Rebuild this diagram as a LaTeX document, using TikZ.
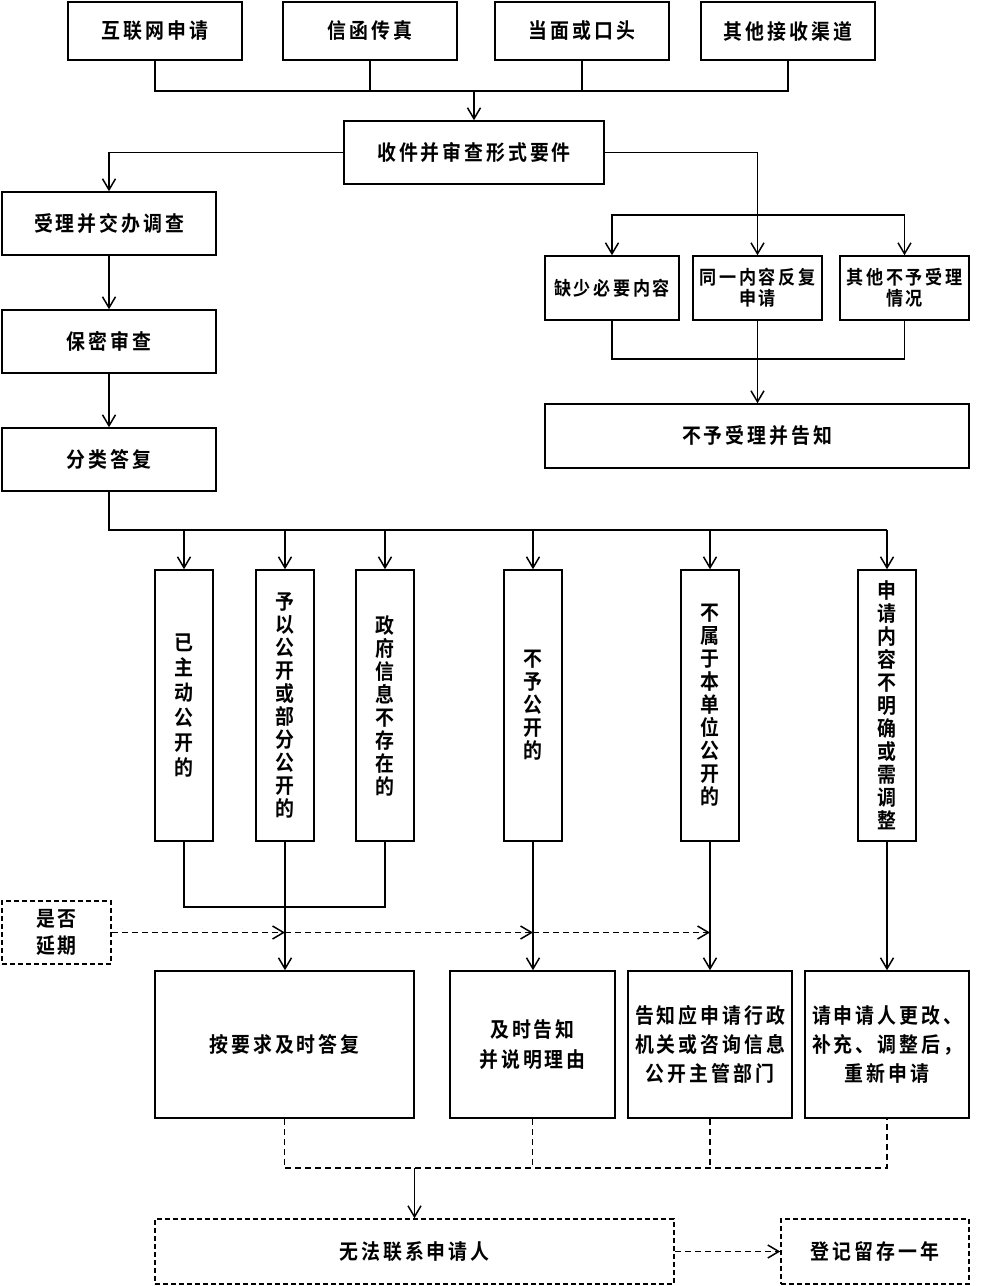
\documentclass[tikz,border=0pt]{standalone}
\usepackage{fontspec}
\setmainfont{Noto Sans CJK SC}[BoldFont={Noto Sans CJK SC Bold}, LetterSpace=14, FakeStretch=0.9]
\usetikzlibrary{arrows.meta}
\newcommand\myfs[2]{\fontsize{#1}{#2}\selectfont\bfseries}
\begin{document}
\begin{tikzpicture}[x=1pt,y=-1pt,
 box/.style={draw,line width=1.5pt,inner sep=0pt,align=center,font=\myfs{21}{28}},
 dbox/.style={box,dash pattern=on 5pt off 3pt},
 ln/.style={line width=1.5pt},
 arr/.style={ln,-{Straight Barb[length=11pt,width=13pt]}},
 dl/.style={ln,dash pattern=on 6pt off 4pt},
 darr/.style={dl,-{Straight Barb[length=11pt,width=13pt,line width=1.5pt]}}]
\useasboundingbox (0,0) rectangle (984,1286);
% top row
\node[box,minimum width=174pt,minimum height=58pt] (t1) at (155,31) {互联网申请};
\node[box,minimum width=174pt,minimum height=58pt] (t2) at (370,31) {信函传真};
\node[box,minimum width=174pt,minimum height=58pt] (t3) at (582,31) {当面或口头};
\node[box,minimum width=174pt,minimum height=58pt] (t4) at (788,31) {其他接收渠道};
\node[box,minimum width=260pt,minimum height=63pt] (recv) at (474,152.5) {收件并审查形式要件};
% left chain
\node[box,minimum width=214pt,minimum height=63pt] (acc) at (109,223.5) {受理并交办调查};
\node[box,minimum width=214pt,minimum height=63pt] (sec) at (109,341.5) {保密审查};
\node[box,minimum width=214pt,minimum height=63pt] (cls) at (109,459.5) {分类答复};
% right branch
\node[box,minimum width=134pt,minimum height=64pt,font=\myfs{19}{21}] (r1) at (612,288) {缺少必要内容};
\node[box,minimum width=129pt,minimum height=64pt,font=\myfs{19}{21}] (r2) at (757.5,288) {同一内容反复\\申请};
\node[box,minimum width=129pt,minimum height=64pt,font=\myfs{19}{21}] (r3) at (904.5,288) {其他不予受理\\情况};
\node[box,minimum width=424pt,minimum height=64pt] (refuse) at (757,436) {不予受理并告知};
% vertical boxes
\node[box,minimum width=58pt,minimum height=271pt,font=\myfs{21}{25}] (v1) at (184,705.5) {已\\主\\动\\公\\开\\的};
\node[box,minimum width=58pt,minimum height=271pt,font=\myfs{21}{23}] (v2) at (285,705.5) {予\\以\\公\\开\\或\\部\\分\\公\\开\\的};
\node[box,minimum width=58pt,minimum height=271pt,font=\myfs{21}{23}] (v3) at (385,705.5) {政\\府\\信\\息\\不\\存\\在\\的};
\node[box,minimum width=58pt,minimum height=271pt,font=\myfs{21}{23}] (v4) at (533,705.5) {不\\予\\公\\开\\的};
\node[box,minimum width=58pt,minimum height=271pt,font=\myfs{21}{23}] (v5) at (710,705.5) {不\\属\\于\\本\\单\\位\\公\\开\\的};
\node[box,minimum width=58pt,minimum height=271pt,font=\myfs{21}{23}] (v6) at (887,705.5) {申\\请\\内\\容\\不\\明\\确\\或\\需\\调\\整};
% delay
\node[dbox,minimum width=109pt,minimum height=63pt,font=\myfs{21}{27}] (delay) at (56.5,932.5) {是否\\延期};
% bottom boxes
\node[box,minimum width=259pt,minimum height=147pt] (b1) at (284.5,1044.5) {按要求及时答复};
\node[box,minimum width=165pt,minimum height=147pt,font=\myfs{21}{30}] (b2) at (532.5,1044.5) {及时告知\\并说明理由};
\node[box,minimum width=164pt,minimum height=147pt,font=\myfs{21}{29}] (b3) at (710,1044.5) {告知应申请行政\\机关或咨询信息\\公开主管部门};
\node[box,minimum width=164pt,minimum height=147pt,font=\myfs{21}{29}] (b4) at (887,1044.5) {请申请人更改、\\补充、调整后，\\重新申请};
\node[dbox,minimum width=519pt,minimum height=65pt] (nc) at (414.5,1251.5) {无法联系申请人};
\node[dbox,minimum width=188pt,minimum height=65pt] (reg) at (875,1251.5) {登记留存一年};
% coordinates
\coordinate (tb) at (474,91);
\coordinate (rb) at (757.5,215);
\coordinate (rm) at (757.5,359);
\coordinate (cb) at (109,530);
\coordinate (jb) at (184,907);
\coordinate (mb) at (414.5,1168);
% top connectors
\draw[ln] (t1.south) -- (t1.south |- tb) -- (t4.south |- tb) -- (t4.south);
\draw[ln] (t2.south) -- (t2.south |- tb);
\draw[ln] (t3.south) -- (t3.south |- tb);
\draw[arr] (tb) -- (recv.north);
\draw[arr] (recv.west) -| (acc.north);
\draw[arr] (acc.south) -- (sec.north);
\draw[arr] (sec.south) -- (cls.north);
\draw[arr] (recv.east) -| (r2.north);
\draw[arr] (rb) -| (r1.north);
\draw[arr] (rb) -| (r3.north);
\draw[ln] (r1.south) |- (rm) -| (r3.south);
\draw[arr] (r2.south) -- (r2.south |- refuse.north);
% classification
\draw[ln] (cls.south) -- (cb) -- (cb -| v6.north);
\foreach \v in {v1,v2,v3,v4,v5,v6} \draw[arr] (cb -| \v.north) -- (\v.north);
\draw[ln] (v1.south) -- (v1.south |- jb) -- (v3.south |- jb) -- (v3.south);
\draw[arr] (v2.south) -- (v2.south |- b1.north);
\draw[arr] (v4.south) -- (v4.south |- b2.north);
\draw[arr] (v5.south) -- (v5.south |- b3.north);
\draw[arr] (v6.south) -- (v6.south |- b4.north);
% delay
\draw[darr] (delay.east) -- (delay.east -| v2.south);
\draw[darr] (delay.east -| v2.south) -- (delay.east -| v4.south);
\draw[darr] (delay.east -| v4.south) -- (delay.east -| v5.south);
% bottom
\draw[dl] (b1.south) -- (b1.south |- mb) -- (b4.south |- mb) -- (b4.south);
\draw[dl] (b2.south) -- (b2.south |- mb);
\draw[dl] (b3.south) -- (b3.south |- mb);
\draw[arr] (mb) -- (nc.north);
\draw[darr] (nc.east) -- (reg.west);
\end{tikzpicture}
\end{document}
